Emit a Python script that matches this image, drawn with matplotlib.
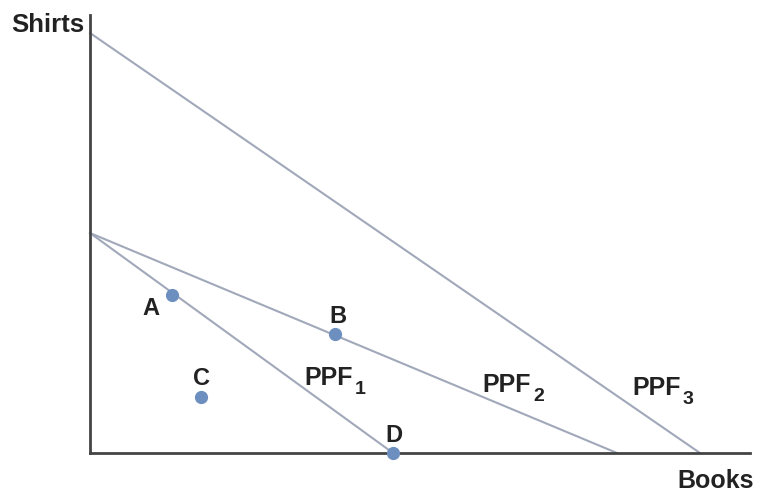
import matplotlib.pyplot as plt

plt.rcParams['font.family'] = ['Liberation Sans', 'DejaVu Sans']

# PPF intercepts (books, shirts) in arbitrary units
ppf_names = ["PPF", "PPF", "PPF"]
ppf_subs = ["1", "2", "3"]
ppf_shirts = [220, 220, 420]
ppf_books = [303, 527, 610]

# labelled points
pt_names = ["A", "B", "C", "D"]
pt_books = [82, 245, 111, 303]
pt_shirts = [158, 119, 56, 0]

fig = plt.figure(figsize=(7.59, 4.95), dpi=100)
ax = fig.add_axes([90/759, 42/495, 660/759, 438/495])
ax.set_xlim(0, 660)
ax.set_ylim(0, 438)

line_col = "#a0a8ba"
for s, b in zip(ppf_shirts, ppf_books):
    ax.plot([0, b], [s, 0], color=line_col, lw=1.5, clip_on=False)

ax.plot(pt_books, pt_shirts, "o", color="#6d8fbf", ms=8.5, clip_on=False, zorder=5)

txt_col = "#222222"
# point labels (offsets from the point, baseline)
offsets = [(-21, -20), (3, 11), (0, 12), (1, 11)]
for n, x, y, (dx, dy) in zip(pt_names, pt_books, pt_shirts, offsets):
    ax.text(x + dx, y + dy, n, ha="center", va="baseline", fontsize=17,
            fontweight="bold", color=txt_col)

# PPF labels with subscripts
lab_x = [214, 392, 542]
lab_y = [68, 61, 58]
for n, sub, x, y in zip(ppf_names, ppf_subs, lab_x, lab_y):
    ax.text(x, y, n, ha="left", va="baseline", fontsize=18,
            fontweight="bold", color=txt_col)
    ax.text(x + 51, y - 9, sub, ha="left", va="baseline", fontsize=14,
            fontweight="bold", color=txt_col)

for side in ["top", "right"]:
    ax.spines[side].set_visible(False)
for side in ["left", "bottom"]:
    ax.spines[side].set_color("#444444")
    ax.spines[side].set_linewidth(2)
ax.set_xticks([])
ax.set_yticks([])

fig.text(84/759, 1 - 32/495, "Shirts", ha="right", va="baseline", fontsize=18.5,
         fontweight="bold", color=txt_col)
fig.text(716/759, 1 - 488/495, "Books", ha="center", va="baseline", fontsize=18,
         fontweight="bold", color=txt_col)

fig.savefig("out.png", dpi=100, facecolor="white")
